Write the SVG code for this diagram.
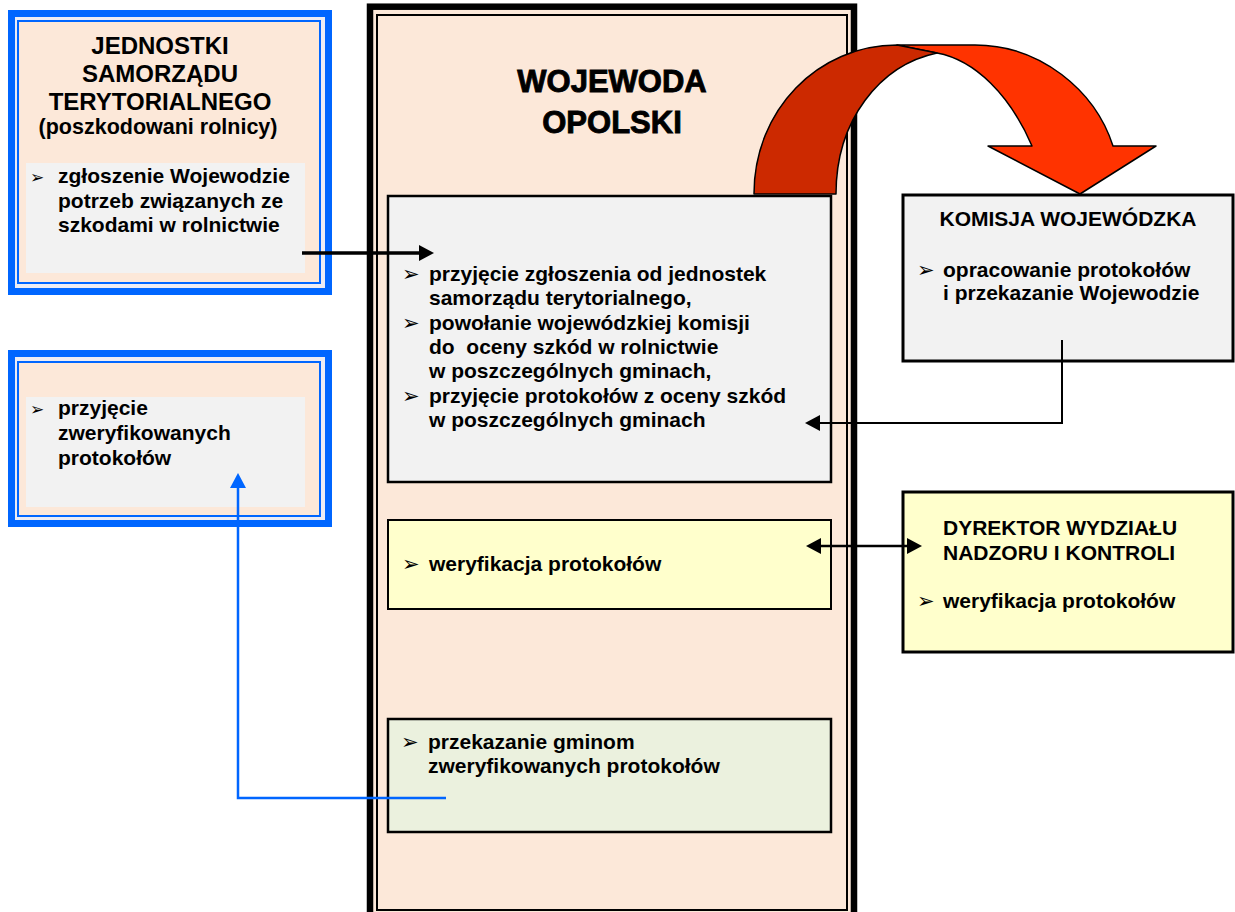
<svg xmlns="http://www.w3.org/2000/svg" width="1235" height="912" viewBox="0 0 1235 912">
<style>
.t{font-family:"Liberation Sans",Arial,sans-serif;font-weight:bold;font-size:21px;fill:#000;white-space:pre}
.h{font-family:"Liberation Sans",Arial,sans-serif;font-weight:bold;font-size:24px;fill:#000;text-anchor:middle}
.big{font-family:"Liberation Sans",Arial,sans-serif;font-weight:bold;font-size:31px;fill:#000;text-anchor:middle;stroke:#000;stroke-width:0.9}
.bl{font-family:"DejaVu Sans",sans-serif;font-size:21px;fill:#000}
.bs{font-family:"DejaVu Sans",sans-serif;font-size:17px;fill:#000}
.peach{fill:#FCE8D9}
.gray{fill:#F2F2F2}
.blueOut{fill:#ECECF4;stroke:#0066FF;stroke-width:7}
.blueIn{fill:#FCE8D9;stroke:#0066FF;stroke-width:2}
.con{fill:none;stroke:#000}
</style>
<defs>
<marker id="ah" markerUnits="userSpaceOnUse" markerWidth="16" markerHeight="16" refX="7" refY="8" orient="auto-start-reverse">
<path d="M0,0 L15,8 L0,16 z" fill="#000"/>
</marker>
<marker id="ahb" markerUnits="userSpaceOnUse" markerWidth="16" markerHeight="16" refX="7" refY="8" orient="auto">
<path d="M0,0 L15,8 L0,16 z" fill="#0066FF"/>
</marker>
</defs>
<rect width="1235" height="912" fill="#fff"/>

<g id="wojewoda">
<rect x="370" y="6.7" width="484" height="915" class="peach" stroke="#000" stroke-width="6.5"/>
<rect x="377" y="15" width="470" height="895" class="peach" stroke="#000" stroke-width="2"/>
<text class="big" x="612" y="92">WOJEWODA</text>
<text class="big" x="612" y="133">OPOLSKI</text>
</g>

<g id="jst">
<rect x="11.5" y="13.5" width="317" height="278" class="blueOut"/>
<rect x="18" y="21" width="302" height="262" class="blueIn"/>
<rect x="26" y="163" width="279" height="110" class="gray"/>
<text class="h" x="160" y="54">JEDNOSTKI</text>
<text class="h" x="160" y="82">SAMORZĄDU</text>
<text class="h" x="160" y="110">TERYTORIALNEGO</text>
<text class="h" x="158" y="134" style="font-size:21.5px">(poszkodowani rolnicy)</text>
<text class="bs" x="30" y="183">➢</text>
<text class="t" x="58" y="183">zgłoszenie Wojewodzie</text>
<text class="t" x="58" y="207.5">potrzeb związanych ze</text>
<text class="t" x="58" y="232">szkodami w rolnictwie</text>
</g>

<g id="gminy">
<rect x="11.5" y="353.5" width="317" height="170" class="blueOut"/>
<rect x="18" y="362" width="302" height="154" class="blueIn"/>
<rect x="26" y="397" width="279" height="110" class="gray"/>
<text class="bs" x="30" y="415">➢</text>
<text class="t" x="58" y="415">przyjęcie</text>
<text class="t" x="58" y="440">zweryfikowanych</text>
<text class="t" x="58" y="465">protokołów</text>
</g>

<g id="przyjecie">
<rect x="388" y="196" width="443" height="286" class="gray" stroke="#000" stroke-width="2.5"/>
<text class="bl" x="402" y="281">➢</text>
<text class="t" x="429" y="281">przyjęcie zgłoszenia od jednostek</text>
<text class="t" x="429" y="305">samorządu terytorialnego,</text>
<text class="bl" x="402" y="330">➢</text>
<text class="t" x="429" y="330">powołanie wojewódzkiej komisji</text>
<text class="t" x="429" y="354">do  oceny szkód w rolnictwie</text>
<text class="t" x="429" y="378">w poszczególnych gminach,</text>
<text class="bl" x="402" y="403">➢</text>
<text class="t" x="429" y="403">przyjęcie protokołów z oceny szkód</text>
<text class="t" x="429" y="427">w poszczególnych gminach</text>
</g>

<g id="weryfikacja">
<rect x="388" y="520" width="443" height="89" fill="#FFFFCC" stroke="#000" stroke-width="2"/>
<text class="bl" x="402" y="571">➢</text>
<text class="t" x="429" y="571">weryfikacja protokołów</text>
</g>

<g id="przekazanie">
<rect x="388" y="719" width="443" height="113" fill="#EBF1DE" stroke="#000" stroke-width="2.5"/>
<text class="bl" x="401" y="749">➢</text>
<text class="t" x="428" y="749">przekazanie gminom</text>
<text class="t" x="428" y="773">zweryfikowanych protokołów</text>
</g>

<g id="komisja">
<rect x="903" y="195" width="330" height="166" class="gray" stroke="#000" stroke-width="3"/>
<text class="t" x="1068" y="226" style="text-anchor:middle">KOMISJA WOJEWÓDZKA</text>
<text class="bl" x="917" y="277">➢</text>
<text class="t" x="943" y="277">opracowanie protokołów</text>
<text class="t" x="943" y="300">i przekazanie Wojewodzie</text>
</g>

<g id="dyrektor">
<rect x="903" y="492" width="330" height="160" fill="#FFFFCC" stroke="#000" stroke-width="3"/>
<text class="t" x="943" y="535">DYREKTOR WYDZIAŁU</text>
<text class="t" x="943" y="560">NADZORU I KONTROLI</text>
<text class="bl" x="917" y="608">➢</text>
<text class="t" x="943" y="608">weryfikacja protokołów</text>
</g>

<g id="connectors">
<path d="M897,45 L975,45 C1040,45 1095,90 1113,146 L1156,146 L1080,194 L988,146 L1032,146 C1010,95 975,60 937,53 Z" fill="#FF3300" stroke="#000" stroke-width="1.5" stroke-linejoin="round"/>
<path d="M754,194 C754,110 818,45 897,45 L937,53 C880,65 836,120 836,194 Z" fill="#CC2900" stroke="#000" stroke-width="1.5" stroke-linejoin="round"/>
<path class="con" d="M302,253 H426" stroke-width="3.5" marker-end="url(#ah)"/>
<path class="con" d="M1062,340 V423 H813" stroke-width="2" marker-end="url(#ah)"/>
<path class="con" d="M814,546 H914" stroke-width="2.5" marker-start="url(#ah)" marker-end="url(#ah)"/>
<path d="M446,798 H238 V481" fill="none" stroke="#0066FF" stroke-width="2.5" marker-end="url(#ahb)"/>
</g>
</svg>
